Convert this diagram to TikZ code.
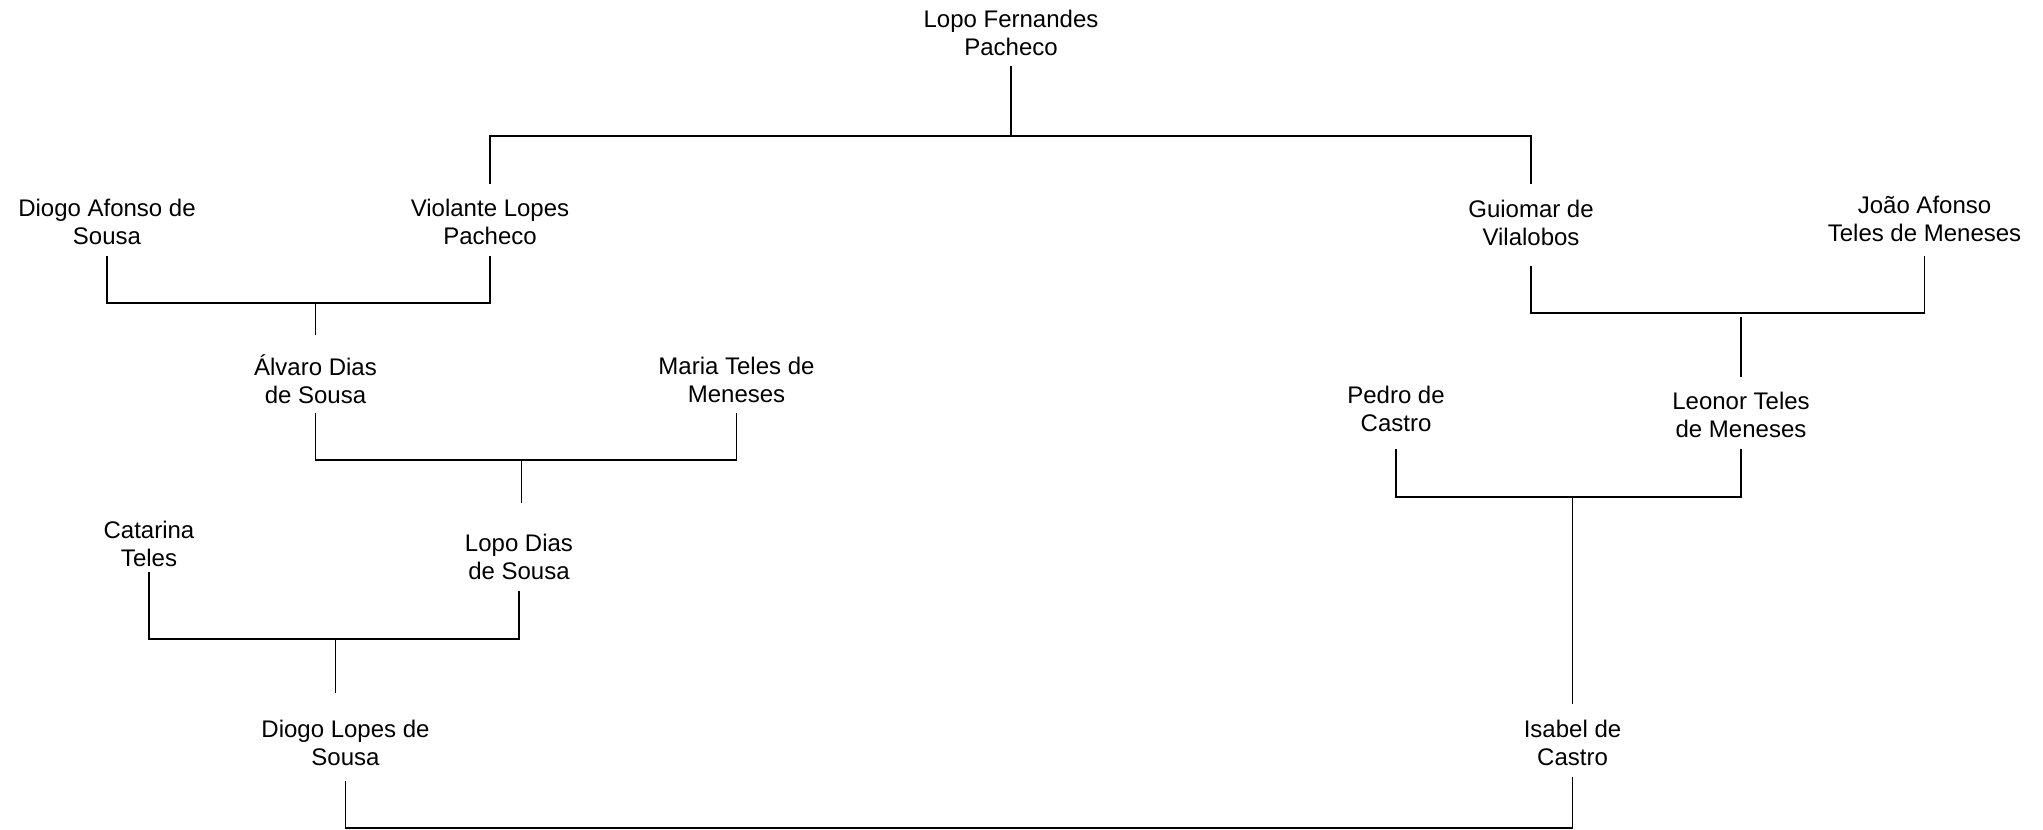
\documentclass[tikz,border=0pt]{standalone}
\usepackage{fontspec}
\setmainfont{Liberation Sans}
\begin{document}
\begin{tikzpicture}[x=0.5pt,y=-0.5pt,
  person/.style={align=center,inner sep=0pt,font=\fontsize{12}{14.25}\selectfont},
  link/.style={draw=black,line width=0.55pt}]
\useasboundingbox (0,0) rectangle (2043,829);
% people
\node[person] (lfp)  at (1011,33)   {Lopo Fernandes\\Pacheco};
\node[person] (dads) at (107,222)   {Diogo Afonso de\\Sousa};
\node[person] (vlp)  at (490,222)   {Violante Lopes\\Pacheco};
\node[person] (gv)   at (1531,223)  {Guiomar de\\Vilalobos};
\node[person] (jatm) at (1924.5,219){João Afonso\\Teles de Meneses};
\node[person] (ads)  at (315.5,379) {Álvaro Dias\\de Sousa};
\node[person] (mtm)  at (736.5,380) {Maria Teles de\\Meneses};
\node[person] (ct)   at (149,544)   {Catarina\\Teles};
\node[person] (lds)  at (519,557)   {Lopo Dias\\de Sousa};
\node[person] (dls)  at (345.5,743) {Diogo Lopes de\\Sousa};
\node[person] (pc)   at (1396,409)  {Pedro de\\Castro};
\node[person] (ltm)  at (1741,415)  {Leonor Teles\\de Meneses};
\node[person] (ic)   at (1572.5,743){Isabel de\\Castro};
% junction coordinates
\coordinate (c1) at (315.5,303);
\coordinate (c2) at (521.5,460);
\coordinate (c3) at (335.7,639);
\coordinate (c4) at (1741,313);
\coordinate (c5) at (1572.5,497);
% Lopo Fernandes Pacheco -> children
\draw[link] (lfp |- 0,66) -- (lfp |- 0,136);
\draw[link] (vlp |- 0,184) |- (gv |- 0,136) -- (gv |- 0,184);
% Diogo Afonso + Violante -> Alvaro
\draw[link] (dads |- 0,256) |- (vlp |- 0,303) -- (vlp |- 0,256);
\draw[link] (c1) -- (ads |- 0,335);
% Alvaro + Maria -> Lopo Dias
\draw[link] (ads |- 0,413) |- (mtm |- 0,460) -- (mtm |- 0,413);
\draw[link] (c2) -- (c2 |- 0,503);
% Catarina + Lopo Dias -> Diogo Lopes
\draw[link] (ct |- 0,572) |- (lds |- 0,639) -- (lds |- 0,591);
\draw[link] (c3) -- (c3 |- 0,693);
% Guiomar + Joao -> Leonor
\draw[link] (gv |- 0,266) |- (jatm |- 0,313) -- (jatm |- 0,256);
\draw[link] (c4 |- 0,317) -- (ltm |- 0,377);
% Pedro + Leonor -> Isabel
\draw[link] (pc |- 0,449) |- (ltm |- 0,497) -- (ltm |- 0,449);
\draw[link] (c5) -- (ic |- 0,704);
% Diogo Lopes + Isabel
\draw[link] (dls |- 0,781) |- (ic |- 0,828) -- (ic |- 0,777);
\end{tikzpicture}
\end{document}
